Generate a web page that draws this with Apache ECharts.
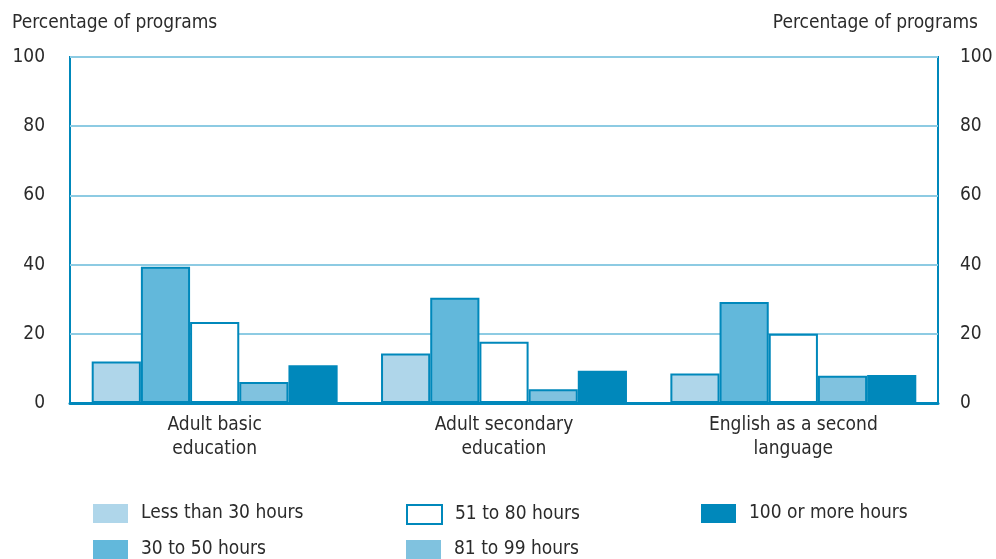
<!DOCTYPE html>
<html>
<head>
<meta charset="utf-8">
<script src="https://cdn.jsdelivr.net/npm/echarts@6/dist/echarts.min.js"></script>
<style>
  html, body { margin: 0; padding: 0; background: #fff; }
  #chart { width: 996px; height: 559px; }
</style>
</head>
<body>
<div id="chart"></div>
<script>
// program types along the x axis
const categories = ['Adult basic\neducation', 'Adult secondary\neducation', 'English as a second\nlanguage'];
const seriesNames = ['Less than 30 hours', '30 to 50 hours', '51 to 80 hours', '81 to 99 hours', '100 or more hours'];
// percentage of programs, one array per hours band
const lessThan30 = [12, 14.3, 8.5];
const from30to50 = [39.4, 30.4, 29.2];
const from51to80 = [23.4, 17.7, 20];
const from81to99 = [6.1, 4, 7.9];
const over100 = [10.9, 9.3, 8.1];
const yTicks = [0, 20, 40, 60, 80, 100];

const FONT = '"DejaVu Sans Condensed", "Liberation Sans", sans-serif';
const FS = 19;
const TEXT = '#2b2b2b';
const BLUE = '#0088bb';
const fills = ['#afd6ea', '#62b8db', '#ffffff', '#80c2df', BLUE];
const values = [lessThan30, from30to50, from51to80, from81to99, over100];

// legend slots: [left, top] of each item, 3 columns x 2 rows
const legendSlots = [[93, 504], [93, 540], [406, 504], [406, 540], [701, 504]];

const chart = echarts.init(document.getElementById('chart'));

function yAxis(pos) {
  return {
    type: 'value',
    position: pos,
    min: yTicks[0],
    max: yTicks[yTicks.length - 1],
    interval: 20,
    axisLine: { show: false },
    axisTick: { show: false },
    axisLabel: {
      color: TEXT, fontFamily: FONT, fontSize: FS,
      margin: pos === 'left' ? 25 : 22
    },
    splitLine: { show: pos === 'left', lineStyle: { color: '#8dcbe3', width: 2 } }
  };
}

const option = {
  animation: false,
  backgroundColor: '#fff',
  title: [
    { text: 'Percentage of programs', left: 12, top: 14, padding: 0,
      textStyle: { color: TEXT, fontFamily: FONT, fontSize: FS, fontWeight: 'normal' } },
    { text: 'Percentage of programs', right: 18, top: 14, padding: 0,
      textStyle: { color: TEXT, fontFamily: FONT, fontSize: FS, fontWeight: 'normal' } }
  ],
  legend: seriesNames.map((n, i) => ({
    left: legendSlots[i][0],
    top: legendSlots[i][1],
    padding: 0,
    itemWidth: 35,
    itemHeight: 19,
    icon: 'rect',
    textStyle: { color: TEXT, fontFamily: FONT, fontSize: FS, padding: [0, 0, 0, 8] },
    data: [{
      name: n,
      itemStyle: n === '51 to 80 hours' ? { borderColor: BLUE, borderWidth: 2 } : { borderWidth: 0 }
    }]
  })),
  grid: {
    left: 70, right: 58, top: 57, bottom: 156,
    outerBoundsMode: 'none',
    show: true, borderColor: BLUE, borderWidth: 2, backgroundColor: 'transparent'
  },
  xAxis: {
    type: 'category',
    data: categories,
    axisLine: { lineStyle: { color: BLUE, width: 3 } },
    axisTick: { show: false },
    axisLabel: { color: TEXT, fontFamily: FONT, fontSize: FS, lineHeight: 24, margin: 10 }
  },
  yAxis: [yAxis('left'), yAxis('right')],
  series: seriesNames.map((name, i) => ({
    name: name,
    type: 'bar',
    data: values[i],
    barGap: '0%',
    barCategoryGap: '15%',
    itemStyle: { color: fills[i], borderColor: BLUE, borderWidth: 2 }
  }))
};

chart.setOption(option);
</script>
</body>
</html>
